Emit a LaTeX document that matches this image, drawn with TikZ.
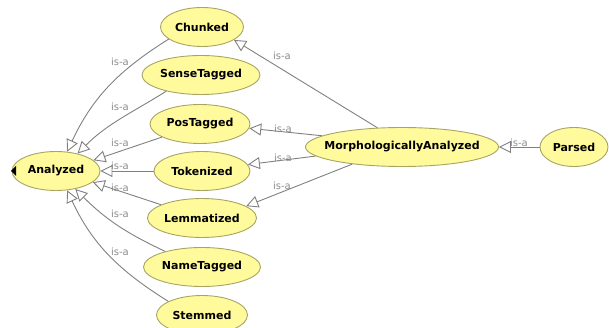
\documentclass[tikz,border=0pt]{standalone}
\usepackage{fontspec}
\setmainfont{DejaVu Sans}
\usetikzlibrary{shapes.geometric,arrows.meta}
\definecolor{nodefill}{HTML}{FFFA9C}
\definecolor{nodeborder}{HTML}{A8A464}
\definecolor{edgegray}{HTML}{808080}
\definecolor{labelgray}{HTML}{8C8C8C}
\begin{document}
\begin{tikzpicture}[x=1pt,y=-1pt,
 cls/.style={ellipse, draw=nodeborder, fill=nodefill, line width=0.9pt, inner sep=0pt, minimum height=39pt},
 ctext/.style={font=\fontsize{11}{13}\selectfont\bfseries, inner sep=0pt},
 isa/.style={draw=edgegray, line width=0.9pt, -{Triangle[length=12pt,width=12pt,fill=white]}},
 lbl/.style={text=labelgray, font=\fontsize{10}{12}\selectfont, inner sep=0pt}]
\useasboundingbox (0,0) rectangle (609,328);
\clip (0,0) rectangle (609,328);

\node[cls, minimum width=83pt,  label={[ctext]center:Chunked}] (chunked) at (202,27) {};
\node[cls, minimum width=118pt, label={[ctext]center:SenseTagged}] (sense) at (201,75) {};
\node[cls, minimum width=100pt, label={[ctext]center:PosTagged}] (pos) at (200,124) {};
\node[cls, minimum width=96pt,  label={[ctext]center:Tokenized}] (tok) at (202,171) {};
\node[cls, minimum width=88pt,  label={[ctext]center:Analyzed}] (ana) at (56,171) {};
\node[cls, minimum width=109pt, label={[ctext]center:Lemmatized}] (lem) at (202,218) {};
\node[cls, minimum width=117pt, label={[ctext]center:NameTagged}] (name) at (202,267) {};
\node[cls, minimum width=91pt,  label={[ctext]center:Stemmed}] (stem) at (202,315) {};
\node[cls, minimum width=193pt, label={[ctext]center:MorphologicallyAnalyzed}] (ma) at (402,147) {};
\node[cls, minimum width=68pt,  label={[ctext]center:Parsed}] (parsed) at (574,147) {};

\fill (16,166) -- (11,171) -- (16,176) -- cycle;

% edges into Analyzed
\draw[isa] (chunked.200) to[out=212,in=65] (ana.60);
\draw[isa] (sense.205) to[out=212,in=45] (ana.39);
\draw[isa] (pos.199) -- (ana.16);
\draw[isa] (tok.west) -- (ana.east);
\draw[isa] (lem.162) -- (ana.-17);
\draw[isa] (name.157) to[out=155,in=-45] (ana.-43);
\draw[isa] (stem.158) to[out=148,in=-65] (ana.-60);

% edges from MorphologicallyAnalyzed
\draw[isa] (ma.142) -- (chunked.-22);
\draw[isa] (ma.172) -- (pos.-5);
\draw[isa] (ma.186) -- (tok.8);
\draw[isa] (ma.199) -- (lem.15);
\draw[isa] (parsed.west) -- (ma.east);

% labels
\node[lbl] (l1) at (120,62) {is-a};
\node[lbl] (l2) at (120,107) {is-a};
\node[lbl] (l3) at (120,143) {is-a};
\node[lbl] (l4) at (120,166) {is-a};
\node[lbl] (l5) at (120,188) {is-a};
\node[lbl] (l6) at (120,214) {is-a};
\node[lbl] (l7) at (120,252) {is-a};
\node[lbl] (l8) at (282,56) {is-a};
\node[lbl] (l9) at (283,129) {is-a};
\node[lbl] (l10) at (283,158) {is-a};
\node[lbl] (l11) at (282,186) {is-a};
\node[lbl] (l12) at (519,143) {is-a};
\end{tikzpicture}
\end{document}
